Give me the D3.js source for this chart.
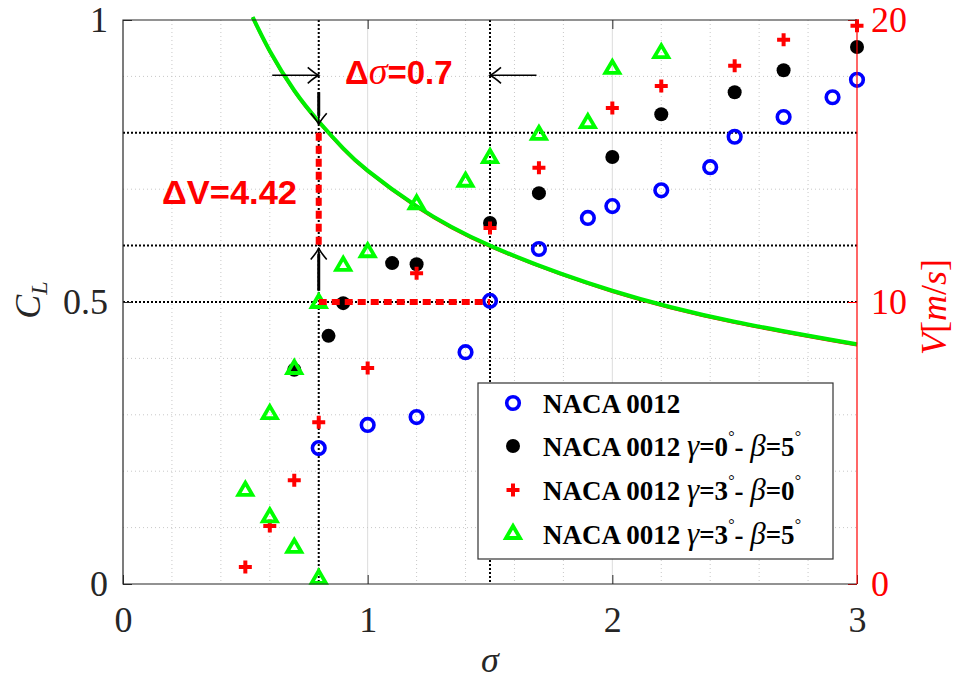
<!DOCTYPE html>
<html><head><meta charset="utf-8">
<script src="https://cdn.jsdelivr.net/npm/d3@7"></script>
<style>body{margin:0;background:#fff}svg{display:block}</style>
</head><body>
<svg id="c" width="958" height="679"></svg>
<script>
// ---- data ----
const sigmaTicks = [0, 1, 2, 3];
const clTicks = [0, 0.5, 1];
const vTicks = [0, 10, 20];

const naca_s  = [0.8, 1.0, 1.2, 1.4, 1.5, 1.7, 1.9, 2.0, 2.2, 2.4, 2.5, 2.7, 2.9, 3.0];
const naca_cl = [0.241, 0.282, 0.296, 0.411, 0.502, 0.594, 0.649, 0.670, 0.698, 0.739, 0.793, 0.828, 0.863, 0.894];

const g0b5_s  = [0.7, 0.84, 0.9, 1.1, 1.2, 1.5, 1.7, 2.0, 2.2, 2.5, 2.7, 3.0];
const g0b5_cl = [0.38, 0.44, 0.498, 0.569, 0.567, 0.64, 0.693, 0.757, 0.833, 0.872, 0.911, 0.952];

const g3b0_s  = [0.5, 0.6, 0.7, 0.8, 1.0, 1.2, 1.5, 1.7, 2.0, 2.2, 2.5, 2.7, 3.0];
const g3b0_cl = [0.030, 0.103, 0.184, 0.287, 0.383, 0.551, 0.631, 0.738, 0.844, 0.883, 0.919, 0.965, 0.990];

const g3b5_s  = [0.5, 0.6, 0.7, 0.8, 0.6, 0.7, 0.8, 0.9, 1.0, 1.2, 1.4, 1.5, 1.7, 1.9, 2.0, 2.2];
const g3b5_cl = [0.167, 0.120, 0.066, 0.011, 0.303, 0.383, 0.500, 0.566, 0.590, 0.675, 0.715, 0.757, 0.798, 0.819, 0.915, 0.943];

// velocity curve (right axis)
const curve_s = [0.53, 0.6, 0.7, 0.8, 0.9, 1.0, 1.2, 1.5, 2.0, 2.5, 3.0];
const curve_v = [20.1, 18.9, 17.5, 16.4, 15.45, 14.66, 13.4, 12.0, 10.4, 9.3, 8.5];

// reference lines
const refSigma = [0.8, 1.5];
const refCL = [0.8, 0.6, 0.5];

const legendLabels = [
  {name: "NACA 0012", g: null, b: null},
  {name: "NACA 0012 ", g: "0", b: "5"},
  {name: "NACA 0012 ", g: "3", b: "0"},
  {name: "NACA 0012 ", g: "3", b: "5"}
];

// ---- scales ----
const L = 123, R = 857, T = 20, B = 584;
const x = d3.scaleLinear().domain([0, 3]).range([L, R]);
const y = d3.scaleLinear().domain([0, 1]).range([B, T]);
const yR = d3.scaleLinear().domain([0, 20]).range([B, T]);

const svg = d3.select("#c");
svg.append("rect").attr("width", 958).attr("height", 679).attr("fill", "#fff");

// ---- grid ----
const grid = svg.append("g");
d3.range(1, 15).map(i => i * 0.2).filter(v => Math.abs(v - Math.round(v)) > 1e-6).forEach(v => {
  grid.append("line").attr("x1", x(v)).attr("x2", x(v)).attr("y1", T).attr("y2", B)
    .attr("stroke", "#c8c8c8").attr("stroke-width", 1).attr("stroke-dasharray", "1,3");
});
[1, 2].forEach(v => {
  grid.append("line").attr("x1", x(v)).attr("x2", x(v)).attr("y1", T).attr("y2", B)
    .attr("stroke", "#dcdcdc").attr("stroke-width", 1);
});
d3.range(1, 10).map(i => i * 0.1).forEach(v => {
  grid.append("line").attr("x1", L).attr("x2", R).attr("y1", y(v)).attr("y2", y(v))
    .attr("stroke", "#c8c8c8").attr("stroke-width", 1).attr("stroke-dasharray", "1,3");
});

// ---- reference dotted lines ----
const ref = svg.append("g").attr("stroke", "#000").attr("stroke-width", 2).attr("stroke-dasharray", "2,2");
refSigma.forEach(s => ref.append("line").attr("x1", x(s)).attr("x2", x(s)).attr("y1", T).attr("y2", B));
refCL.forEach(c => ref.append("line").attr("x1", L).attr("x2", R).attr("y1", y(c)).attr("y2", y(c)));

// ---- velocity curve ----
const line = d3.line().x((d, i) => x(curve_s[i])).y(d => yR(d)).curve(d3.curveNatural);
svg.append("path").attr("d", line(curve_v)).attr("fill", "none").attr("stroke", "#000").attr("stroke-width", 2.5);
svg.append("path").attr("d", line(curve_v)).attr("fill", "none").attr("stroke", "#ff0000").attr("stroke-width", 2.5)
  .attr("transform", "translate(0,1)");
svg.append("path").attr("d", line(curve_v)).attr("fill", "none").attr("stroke", "#00ee00").attr("stroke-width", 4);

// ---- markers ----
const mk = svg.append("g");
function plus(g, cx, cy) {
  g.append("path").attr("d", `M${cx-6.5},${cy}H${cx+6.5}M${cx},${cy-6.5}V${cy+6.5}`)
    .attr("stroke", "#ff0000").attr("stroke-width", 4).attr("fill", "none");
}
function tri(g, cx, cy) {
  g.append("path").attr("d", `M${cx},${cy-7}L${cx+7},${cy+5}L${cx-7},${cy+5}Z`)
    .attr("stroke", "#00ff00").attr("stroke-width", 3.8).attr("fill", "none").attr("stroke-linejoin", "miter");
}
function circ(g, cx, cy) {
  g.append("circle").attr("cx", cx).attr("cy", cy).attr("r", 6.3)
    .attr("stroke", "#0000ff").attr("stroke-width", 3.6).attr("fill", "none");
}
function dot(g, cx, cy) {
  g.append("circle").attr("cx", cx).attr("cy", cy).attr("r", 7).attr("fill", "#000");
}
naca_s.forEach((s, i) => circ(mk, x(s), y(naca_cl[i])));
g0b5_s.forEach((s, i) => dot(mk, x(s), y(g0b5_cl[i])));
g3b0_s.forEach((s, i) => plus(mk, x(s), y(g3b0_cl[i])));
g3b5_s.forEach((s, i) => tri(mk, x(s), y(g3b5_cl[i])));

// ---- red dashed ΔV / Δσ lines ----
const dash = svg.append("g").attr("stroke", "#ff0000").attr("stroke-width", 6).attr("stroke-dasharray", "8,5").attr("fill", "none");
dash.append("line").attr("x1", x(0.8)).attr("x2", x(0.8)).attr("y1", y(0.8)).attr("y2", y(0.6));
dash.append("line").attr("x1", x(0.8)).attr("x2", x(1.5)).attr("y1", y(0.5)).attr("y2", y(0.5));

// ---- arrows ----
const arr = svg.append("g").attr("stroke", "#000").attr("stroke-width", 1.6).attr("fill", "none");
function arrow(x1, y1, x2, y2) {
  const dx = x2 - x1, dy = y2 - y1, len = Math.hypot(dx, dy);
  const ux = dx / len, uy = dy / len, px = -uy, py = ux;
  const h = 11, w = 8;
  const bx = x2 - ux * h, by = y2 - uy * h;
  arr.append("line").attr("x1", x1).attr("y1", y1).attr("x2", x2).attr("y2", y2);
  arr.append("path").attr("d",
    `M${bx + px*w},${by + py*w} Q${x2 - ux*4 + px*2},${y2 - uy*4 + py*2} ${x2},${y2} Q${x2 - ux*4 - px*2},${y2 - uy*4 - py*2} ${bx - px*w},${by - py*w}`);
}
arrow(x(0.61), y(0.902), x(0.8), y(0.902));
arrow(x(1.69), y(0.902), x(1.5), y(0.902));
arrow(x(0.8), y(0.872), x(0.8), y(0.815));
arrow(x(0.8), y(0.52), x(0.8), y(0.595));
svg.append("line").attr("x1", x(0.8)).attr("x2", x(0.8)).attr("y1", y(0.872)).attr("y2", y(0.83))
  .attr("stroke", "#000").attr("stroke-width", 3);
svg.append("line").attr("x1", x(0.8)).attr("x2", x(0.8)).attr("y1", y(0.52)).attr("y2", y(0.585))
  .attr("stroke", "#000").attr("stroke-width", 3);

// ---- annotation texts ----
const t1 = svg.append("text").attr("x", 345).attr("y", 84).attr("fill", "#ff0000")
  .attr("font-family", "Liberation Sans, Arial, sans-serif").attr("font-weight", "bold").attr("font-size", 33);
t1.append("tspan").text("Δ");
t1.append("tspan").attr("font-family", "Liberation Serif, serif").attr("font-style", "italic").attr("font-weight", "normal").attr("font-size", 38).text("σ");
t1.append("tspan").text("=0.7");
svg.append("text").attr("x", 162).attr("y", 204).attr("fill", "#ff0000")
  .attr("font-family", "Liberation Sans, Arial, sans-serif").attr("font-weight", "bold").attr("font-size", 34)
  .attr("textLength", 135).attr("lengthAdjust", "spacingAndGlyphs")
  .text("ΔV=4.42");

// ---- axes ----
const axFont = "'Liberation Serif', 'Times New Roman', serif";
function styleAxis(g, color) {
  g.select(".domain").remove();
  g.selectAll(".tick line").attr("stroke", color).attr("stroke-width", 1);
  g.selectAll(".tick text").attr("fill", color).attr("font-family", axFont).attr("font-size", 36);
}
const ax = svg.append("g").attr("transform", `translate(0,${B})`)
  .call(d3.axisBottom(x).tickValues(sigmaTicks).tickFormat(d3.format("d")).tickSize(-9).tickPadding(22));
styleAxis(ax, "#262626");
const axT = svg.append("g").attr("transform", `translate(0,${T})`)
  .call(d3.axisTop(x).tickValues([1, 2]).tickFormat("").tickSize(-9));
styleAxis(axT, "#262626");
const ayL = svg.append("g").attr("transform", `translate(${L},0)`)
  .call(d3.axisLeft(y).tickValues(clTicks).tickFormat(d => d === 0.5 ? "0.5" : d3.format("d")(d)).tickSize(-9).tickPadding(15));
styleAxis(ayL, "#262626");
const ayR = svg.append("g").attr("transform", `translate(${R},0)`)
  .call(d3.axisRight(yR).tickValues(vTicks).tickFormat(d3.format("d")).tickSize(-9).tickPadding(14));
styleAxis(ayR, "#ff0000");

// frame
svg.append("path").attr("d", `M${R},${T}H${L}V${B}H${R}`).attr("fill", "none").attr("stroke", "#262626").attr("stroke-width", 1.2);
svg.append("line").attr("x1", R).attr("x2", R).attr("y1", T).attr("y2", B).attr("stroke", "#ff0000").attr("stroke-width", 1.2);

// axis labels
svg.append("text").attr("x", x(1.5)).attr("y", 672).attr("text-anchor", "middle")
  .attr("font-family", axFont).attr("font-style", "italic").attr("font-size", 36).attr("fill", "#262626").text("σ");
const cl = svg.append("text").attr("transform", "translate(40,300) rotate(-90)").attr("text-anchor", "middle")
  .attr("font-family", axFont).attr("font-style", "italic").attr("font-size", 36).attr("fill", "#262626");
cl.append("tspan").text("C");
cl.append("tspan").attr("font-size", 24).attr("dy", 7).text("L");
const vl = svg.append("text").attr("transform", "translate(946,307) rotate(-90)").attr("text-anchor", "middle")
  .attr("font-family", axFont).attr("font-size", 36).attr("fill", "#ff0000");
vl.append("tspan").attr("font-style", "italic").text("V");
vl.append("tspan").text("[");
vl.append("tspan").attr("font-style", "italic").text("m");
vl.append("tspan").text("/");
vl.append("tspan").attr("font-style", "italic").text("s");
vl.append("tspan").text("]");

// ---- legend ----
const lg = svg.append("g");
lg.append("rect").attr("x", 478).attr("y", 383).attr("width", 355).attr("height", 176)
  .attr("fill", "#fff").attr("stroke", "#333").attr("stroke-width", 1.2);
const rowY = [403, 446, 490, 534];
const drawers = [circ, dot, plus, tri];
legendLabels.forEach((d, i) => {
  drawers[i](lg, 513, rowY[i] - (i === 3 ? 1 : 0));
  const t = lg.append("text").attr("x", 543).attr("y", rowY[i] + 10)
    .attr("font-family", axFont).attr("font-weight", "bold").attr("font-size", 27).attr("fill", "#000");
  t.append("tspan").text(d.name);
  if (d.g !== null) {
    t.append("tspan").attr("font-style", "italic").attr("font-weight", "normal").attr("font-size", 31).text("γ");
    t.append("tspan").text("=" + d.g);
    t.append("tspan").attr("font-size", 16).attr("font-weight", "normal").attr("dy", -14).text("°");
    t.append("tspan").attr("dy", 14).text("- ");
    t.append("tspan").attr("font-style", "italic").attr("font-weight", "normal").attr("font-size", 31).text("β");
    t.append("tspan").text("=" + d.b);
    t.append("tspan").attr("font-size", 16).attr("font-weight", "normal").attr("dy", -14).text("°");
  }
});
</script>
</body></html>
